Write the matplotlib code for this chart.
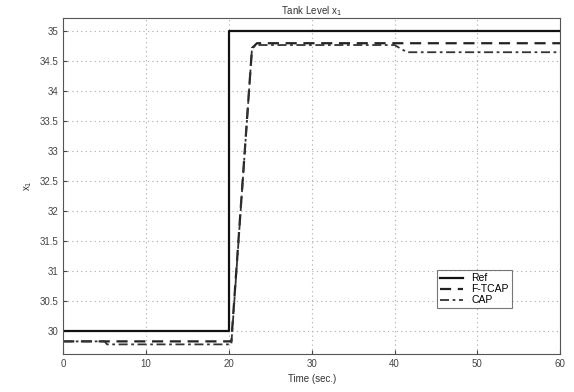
import numpy as np
import matplotlib
matplotlib.use('Agg')
import matplotlib.pyplot as plt

plt.rcParams['font.family'] = ['Liberation Sans', 'DejaVu Sans']

# reference signal
ref_t = [0, 20, 20, 60]
ref_x = [30.0, 30.0, 35.0, 35.0]

# F-TCAP response
ftcap_t = [0, 20.3, 22.8, 23.4, 60]
ftcap_x = [29.83, 29.83, 34.72, 34.8, 34.8]

# CAP response
cap_t = [0, 5.0, 5.3, 20.3, 22.8, 23.4, 40.0, 41.5, 60]
cap_x = [29.83, 29.83, 29.78, 29.78, 34.72, 34.77, 34.77, 34.65, 34.65]

xticks = [0, 10, 20, 30, 40, 50, 60]
yticks = [30, 30.5, 31, 31.5, 32, 32.5, 33, 33.5, 34, 34.5, 35]

fig = plt.figure(figsize=(5.74, 3.92), dpi=100)
ax = fig.add_axes([0.110, 0.097, 0.866, 0.857])

ax.plot(ref_t, ref_x, color='#111111', lw=1.6, ls='-', label='Ref')
ax.plot(ftcap_t, ftcap_x, color='#222222', lw=1.6, ls=(0, (5, 3)), label='F-TCAP')
ax.plot(cap_t, cap_x, color='#333333', lw=1.3, ls=(0, (5, 2, 1.5, 2)), label='CAP')

ax.set_xlim(0, 60)
ax.set_ylim(29.62, 35.22)
ax.set_xticks(xticks)
ax.set_yticks(yticks)
ax.set_yticklabels(['%g' % v for v in yticks])
ax.grid(True, ls=(0, (1, 3)), color='#aaaaaa', lw=0.8)
ax.tick_params(labelsize=7, colors='#444444', direction='in', length=3)
for s in ax.spines.values():
    s.set_color('#555555')

ax.set_title('Tank Level x$_1$', fontsize=7, color='#333333', pad=3)
ax.set_xlabel('Time (sec.)', fontsize=7, color='#333333')
ax.set_ylabel('x$_1$', fontsize=7, color='#333333')

leg = ax.legend(loc='lower right', bbox_to_anchor=(0.913, 0.12), fontsize=7.5,
                frameon=True, fancybox=False, handlelength=2.2,
                borderpad=0.3, labelspacing=0.1)
leg.get_frame().set_edgecolor('#555555')
leg.get_frame().set_linewidth(0.8)

plt.savefig('out.png', dpi=100)
